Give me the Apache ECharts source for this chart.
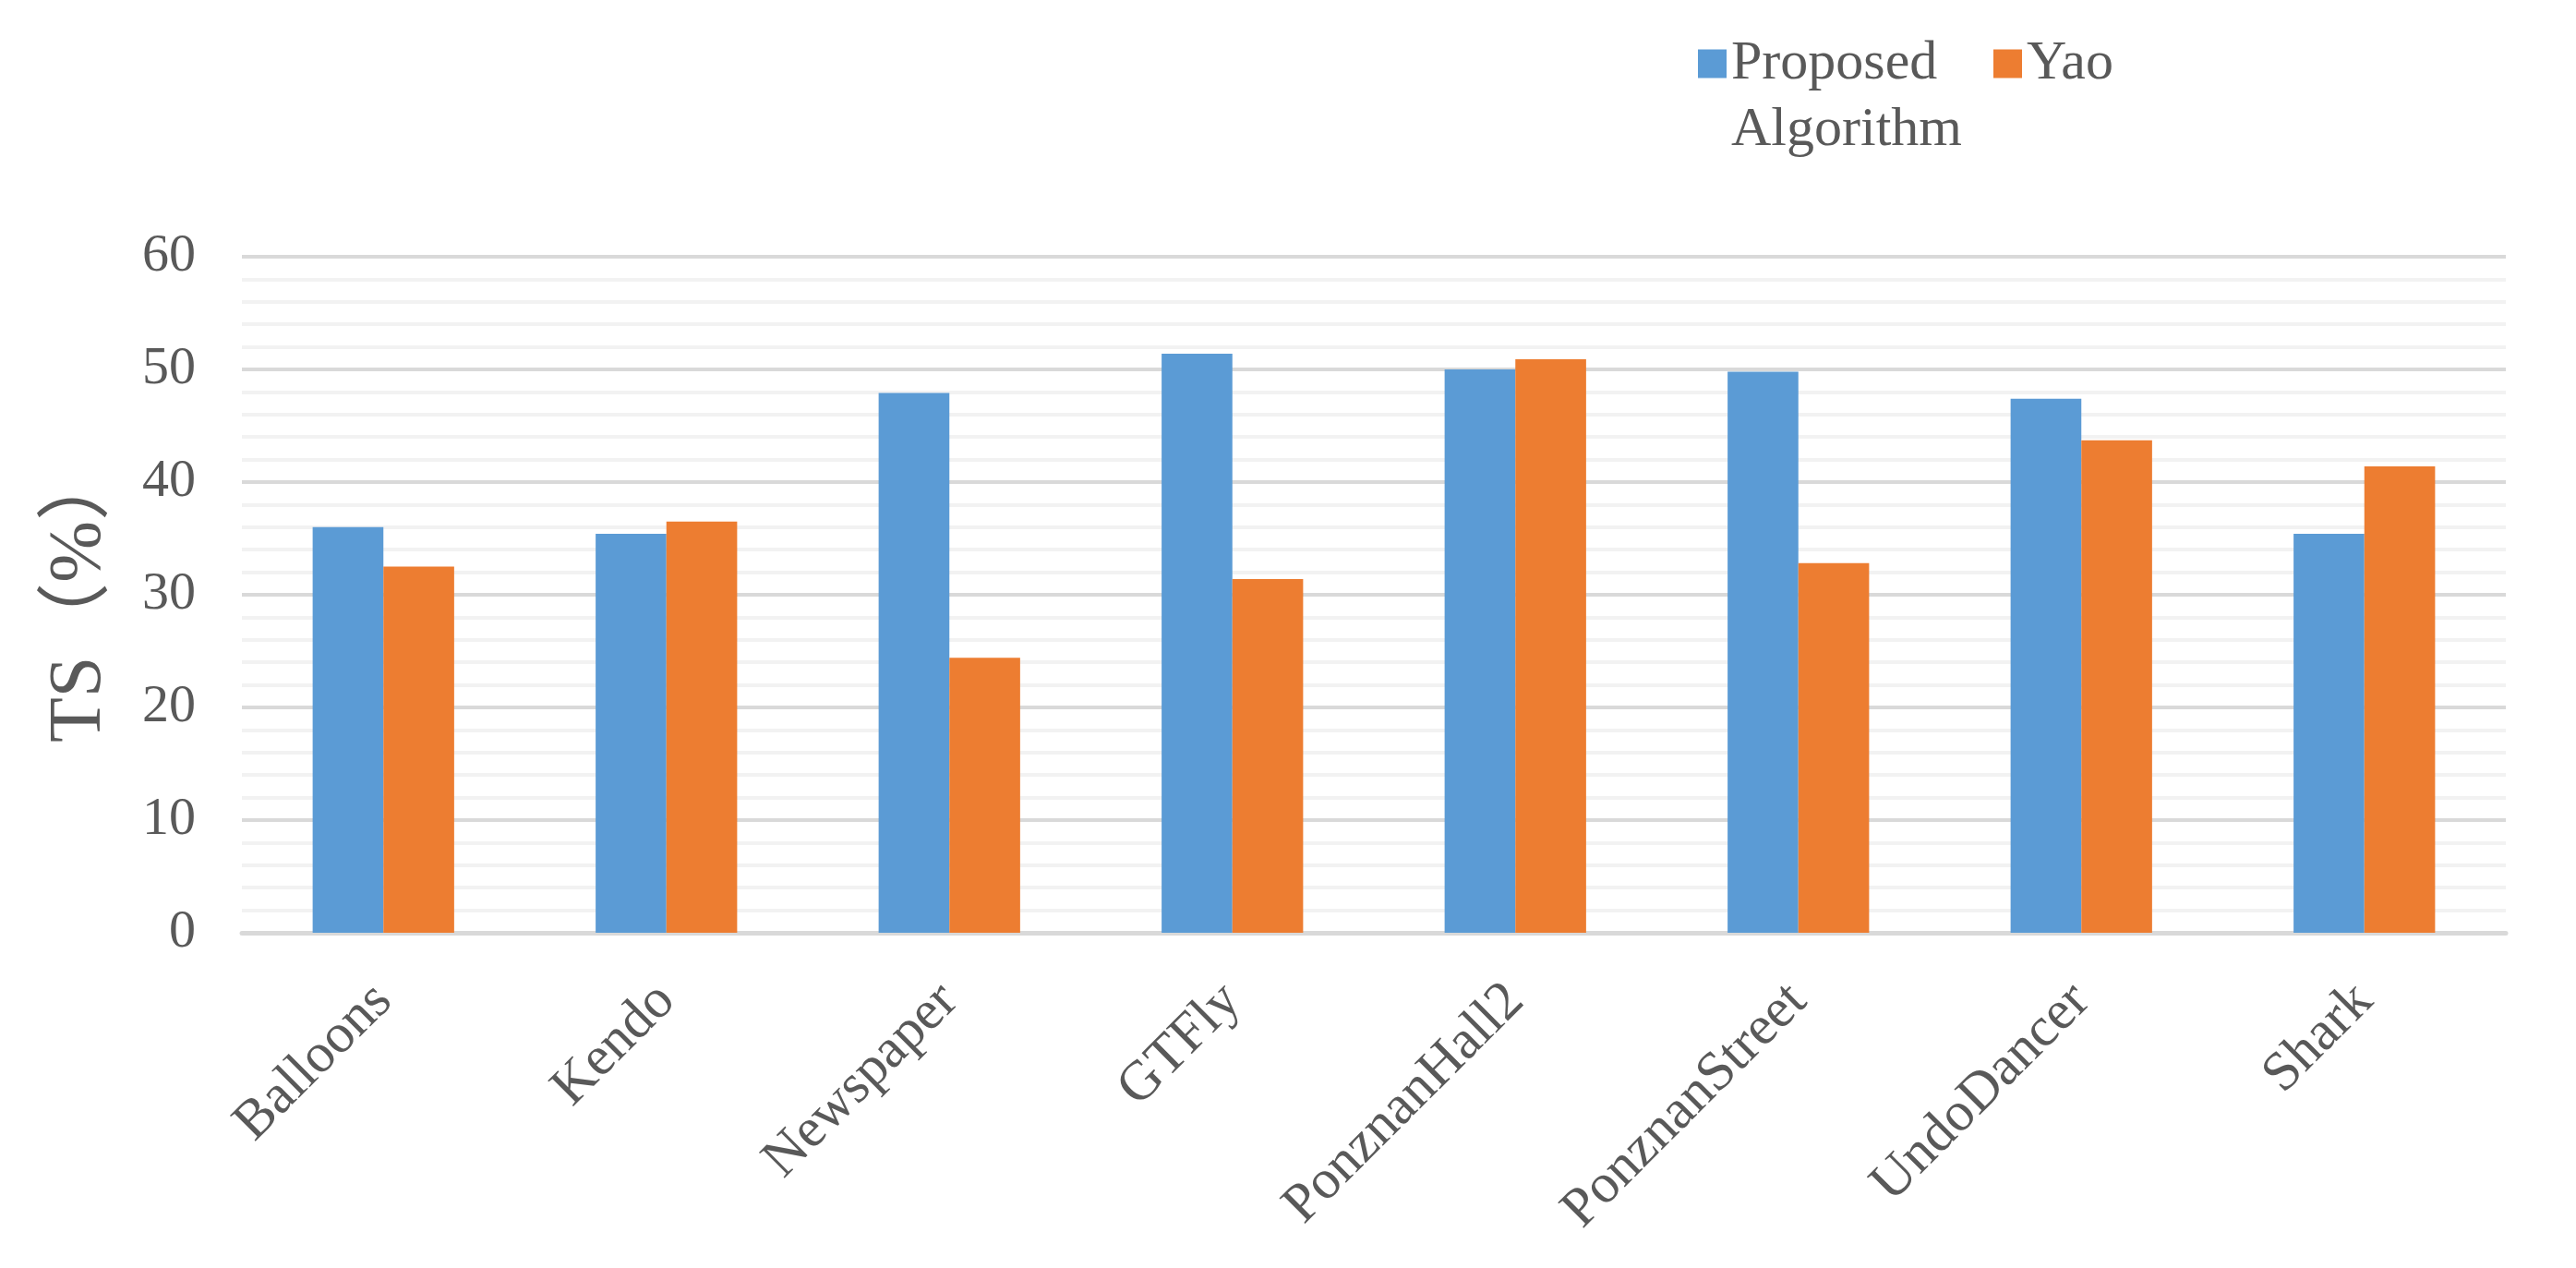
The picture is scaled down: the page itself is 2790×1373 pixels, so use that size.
<!DOCTYPE html>
<html>
<head>
<meta charset="utf-8">
<script src="https://cdn.jsdelivr.net/npm/echarts@6/dist/echarts.min.js"></script>
<style>
html,body{margin:0;padding:0;background:#fff;}
#chart{width:2790px;height:1373px;}
</style>
</head>
<body>
<div id="chart"></div>
<script>
const categories = ['Balloons','Kendo','Newspaper','GTFly','PonznanHall2','PonznanStreet','UndoDancer','Shark'];
const proposed = [36.0, 35.4, 47.9, 51.4, 50.0, 49.8, 47.4, 35.4];
const yao = [32.5, 36.5, 24.4, 31.4, 50.9, 32.8, 43.7, 41.4];
const seriesNames = ['Proposed Algorithm', 'Yao'];
const yTicks = [0, 10, 20, 30, 40, 50, 60];

const font = '"Liberation Serif", "Times New Roman", serif';
const chart = echarts.init(document.getElementById('chart'));
chart.setOption({
  backgroundColor: '#ffffff',
  animation: false,
  color: ['#5b9bd5', '#ed7d31'],
  legend: {
    left: 1839,
    top: -39,
    padding: 0,
    itemWidth: 31,
    itemHeight: 31,
    itemGap: 34,
    icon: 'rect',
    formatter: function (n) { return n === 'Proposed Algorithm' ? '\u00a0\nProposed\nAlgorithm' : n; },
    textStyle: { fontFamily: font, fontSize: 60, color: '#595959', lineHeight: 72 },
    data: seriesNames
  },
  grid: { left: 262, right: 76, top: 278, bottom: 363, containLabel: false },
  xAxis: {
    type: 'category',
    data: categories,
    axisLine: { lineStyle: { color: '#d9d9d9', width: 5 } },
    axisTick: { show: false },
    axisLabel: {
      rotate: 45,
      interval: 0,
      margin: 65,
      fontFamily: font,
      fontSize: 60,
      color: '#595959',
      verticalAlign: 'middle',
      padding: [76, 0, 0, 0]
    }
  },
  yAxis: {
    type: 'value',
    min: yTicks[0],
    max: yTicks[yTicks.length - 1],
    interval: 10,
    name: 'TS（%）',
    nameLocation: 'middle',
    nameGap: 135,
    nameRotate: 90,
    nameTextStyle: { fontFamily: '"Liberation Serif", "Noto Sans CJK SC", serif', fontSize: 80, color: '#595959' },
    axisLine: { show: false },
    axisTick: { show: false },
    axisLabel: { margin: 50, fontFamily: font, fontSize: 58, color: '#595959' },
    splitLine: { lineStyle: { color: '#d9d9d9', width: 4 } },
    minorTick: { show: false, splitNumber: 5 },
    minorSplitLine: { show: true, lineStyle: { color: '#f2f2f2', width: 4 } }
  },
  series: [
    { name: seriesNames[0], type: 'bar', data: proposed, barGap: '0%', barCategoryGap: '50%', itemStyle: { color: '#5b9bd5' } },
    { name: seriesNames[1], type: 'bar', data: yao, barGap: '0%', barCategoryGap: '50%', itemStyle: { color: '#ed7d31' } }
  ]
});
</script>
</body>
</html>
